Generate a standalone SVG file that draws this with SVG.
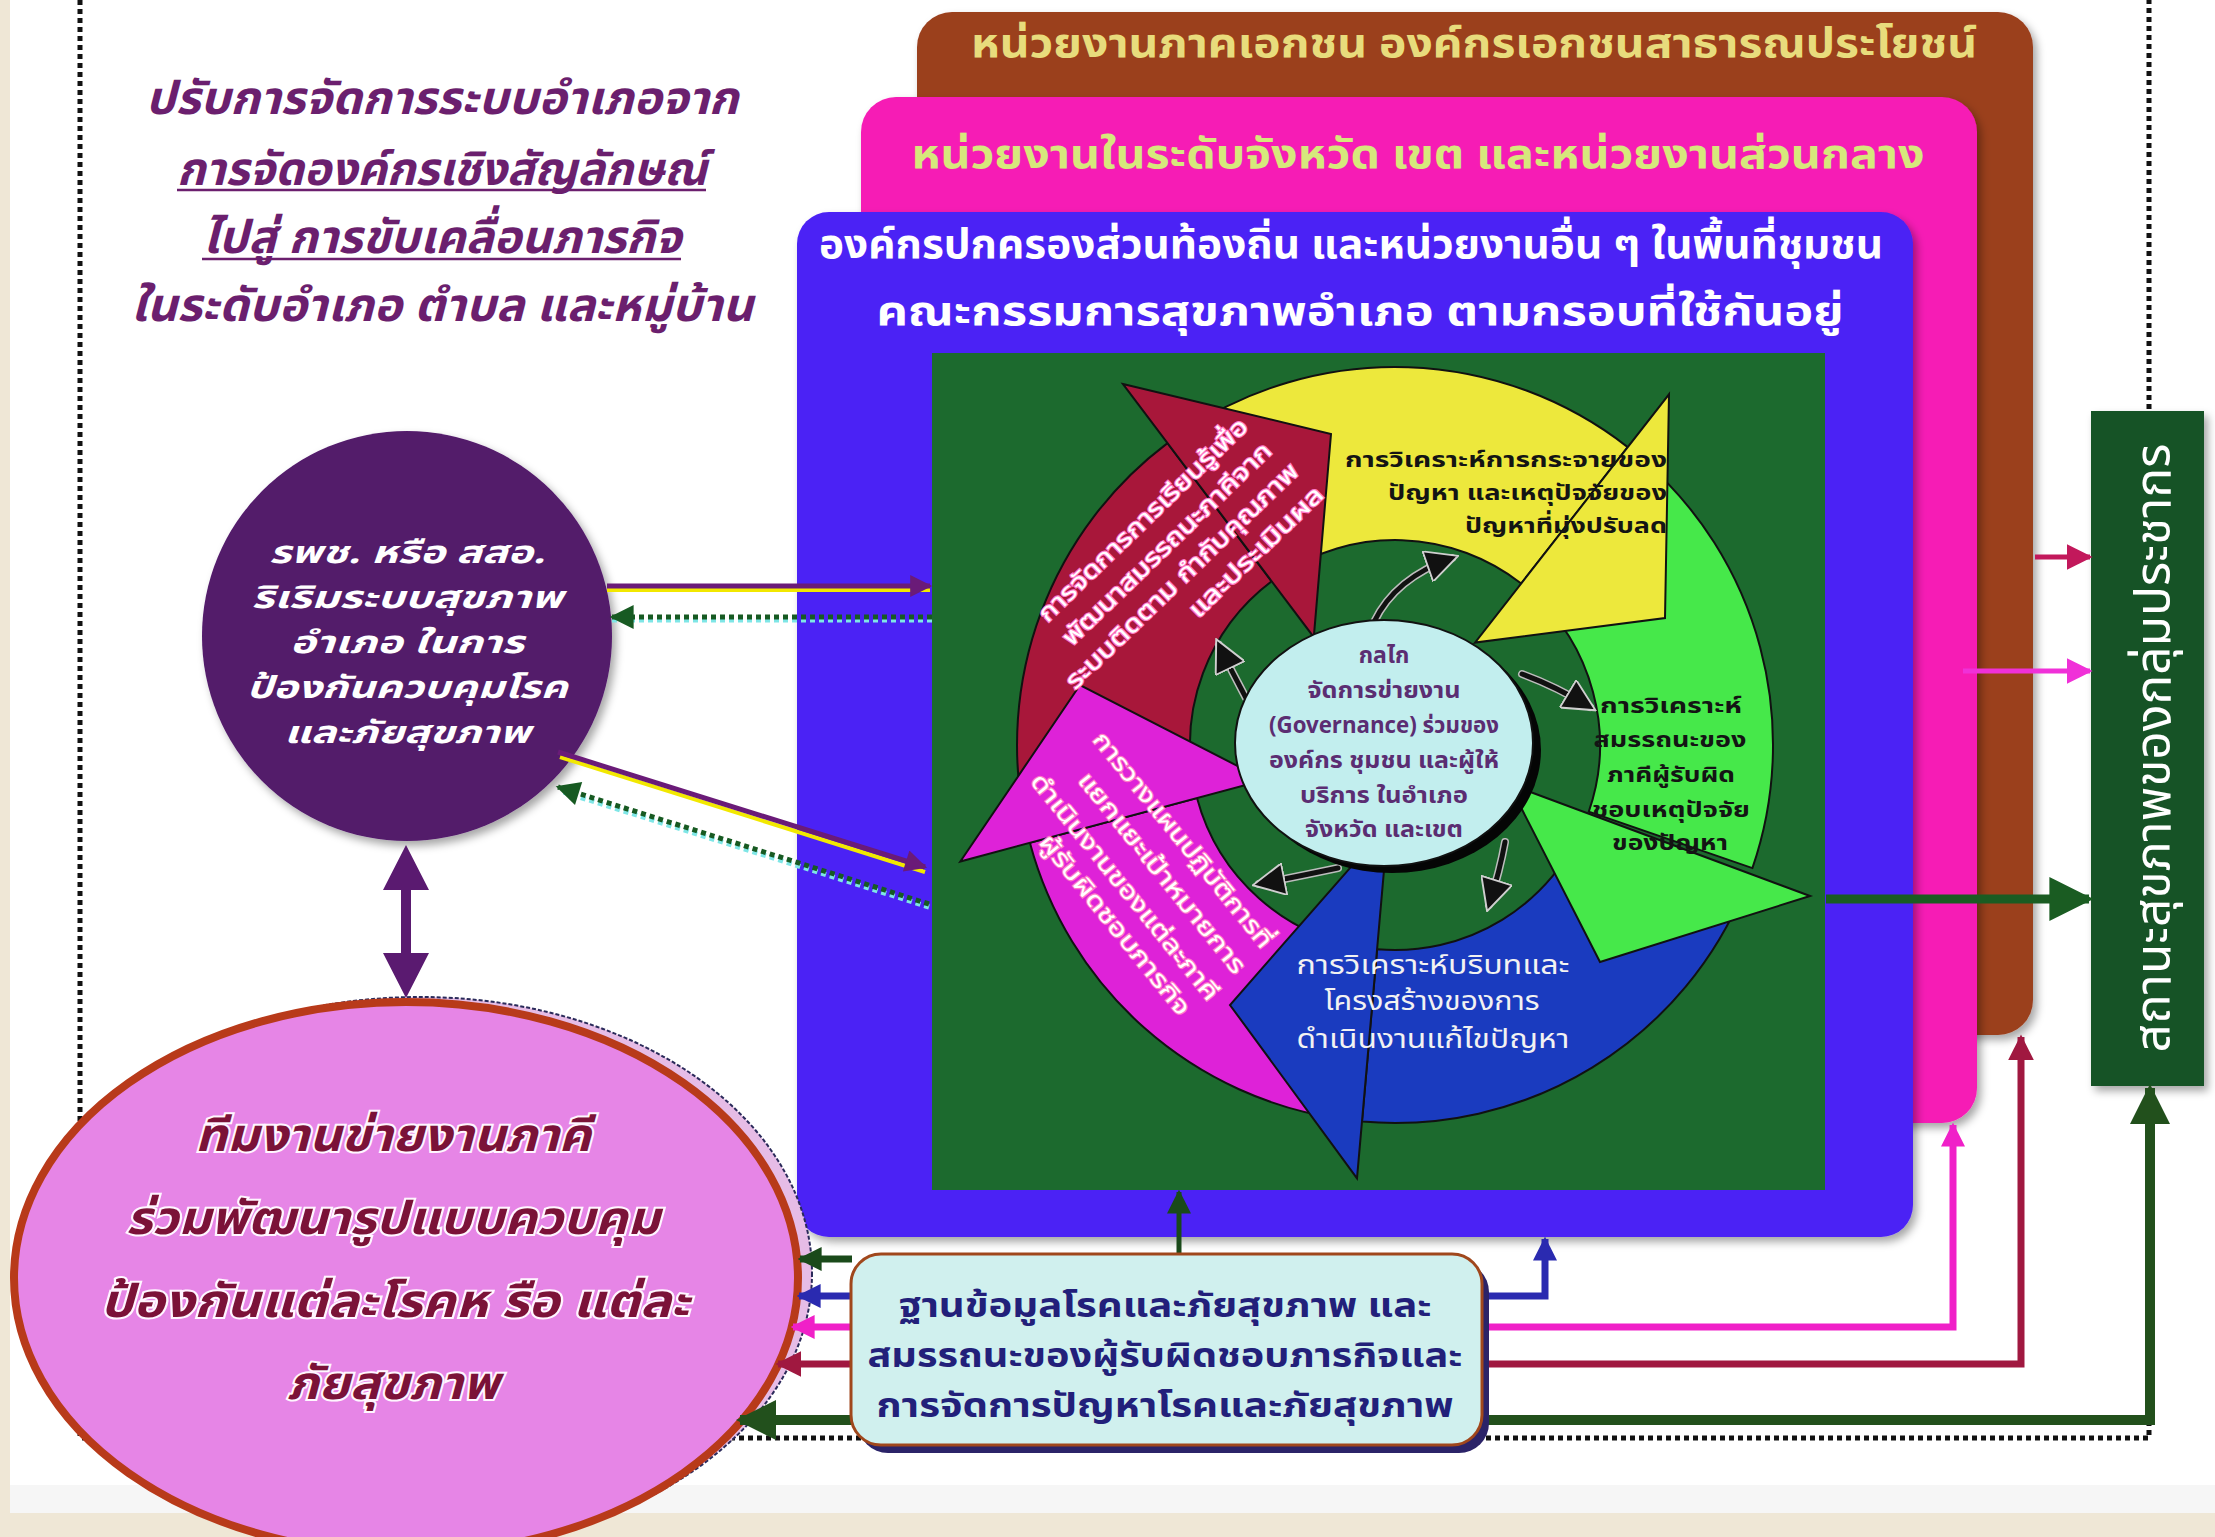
<svg xmlns="http://www.w3.org/2000/svg" width="2215" height="1537" viewBox="0 0 2215 1537">
<style>
text{font-family:'Noto Sans Thai','Noto Sans','DejaVu Sans',sans-serif;}
.tl{font-size:46px;font-weight:bold;font-style:italic;fill:#6b1f6e;text-anchor:middle;}
.hdr{font-size:40px;font-weight:bold;text-anchor:middle;}
.ring{stroke:#111;stroke-width:2;stroke-linejoin:miter;}
.dk{font-size:22px;font-weight:bold;fill:#141414;}
.wt{font-size:24px;fill:#ffffff;stroke:#ff7ac8;stroke-width:2.2;paint-order:stroke;text-anchor:middle;}
.ctr{font-size:23px;font-weight:bold;fill:#5b2d72;text-anchor:middle;}
.pe{font-size:31px;font-weight:bold;font-style:italic;fill:#ffffff;text-anchor:middle;}
.pk{font-size:46px;font-weight:bold;font-style:italic;fill:#7b1238;stroke:#fff6ff;stroke-width:4;paint-order:stroke;text-anchor:middle;}
.cy{font-size:34px;font-weight:bold;fill:#22207a;text-anchor:middle;}
</style>
<defs>
<filter id="sh" x="-5%" y="-5%" width="115%" height="115%"><feDropShadow dx="4" dy="5" stdDeviation="4" flood-color="#000" flood-opacity="0.35"/></filter>
<marker id="mPur" viewBox="0 0 10 10" refX="9" refY="5" markerWidth="24" markerHeight="22" markerUnits="userSpaceOnUse" orient="auto-start-reverse"><path d="M0,0L10,5L0,10z" fill="#6a1b78"/></marker>
<marker id="mDot" viewBox="0 0 10 10" refX="9" refY="5" markerWidth="26" markerHeight="24" markerUnits="userSpaceOnUse" orient="auto-start-reverse"><path d="M0,0L10,5L0,10z" fill="#175a22"/></marker>
<marker id="mDG" viewBox="0 0 10 10" refX="9" refY="5" markerWidth="24" markerHeight="24" markerUnits="userSpaceOnUse" orient="auto-start-reverse"><path d="M0,0L10,5L0,10z" fill="#1a4a1a"/></marker>
<marker id="mBl" viewBox="0 0 10 10" refX="9" refY="5" markerWidth="24" markerHeight="24" markerUnits="userSpaceOnUse" orient="auto-start-reverse"><path d="M0,0L10,5L0,10z" fill="#2a2ab0"/></marker>
<marker id="mPk" viewBox="0 0 10 10" refX="9" refY="5" markerWidth="24" markerHeight="24" markerUnits="userSpaceOnUse" orient="auto-start-reverse"><path d="M0,0L10,5L0,10z" fill="#f020c8"/></marker>
<marker id="mCr" viewBox="0 0 10 10" refX="9" refY="5" markerWidth="26" markerHeight="28" markerUnits="userSpaceOnUse" orient="auto-start-reverse"><path d="M0,0L10,5L0,10z" fill="#a01840"/></marker>
<marker id="mBig" viewBox="0 0 10 10" refX="9" refY="5" markerWidth="40" markerHeight="44" markerUnits="userSpaceOnUse" orient="auto-start-reverse"><path d="M0,0L10,5L0,10z" fill="#22501c"/></marker>
<marker id="mBk" viewBox="0 0 10 10" refX="8" refY="5" markerWidth="34" markerHeight="32" markerUnits="userSpaceOnUse" orient="auto"><path d="M0,0L10,5L0,10z" fill="#111" stroke="#cfcfcf" stroke-width="0.6"/></marker>
<marker id="mCrR" viewBox="0 0 10 10" refX="9" refY="5" markerWidth="26" markerHeight="28" markerUnits="userSpaceOnUse" orient="auto"><path d="M0,0L10,5L0,10z" fill="#c2185b"/></marker>
<marker id="mPkR" viewBox="0 0 10 10" refX="9" refY="5" markerWidth="26" markerHeight="28" markerUnits="userSpaceOnUse" orient="auto"><path d="M0,0L10,5L0,10z" fill="#f030d8"/></marker>
<marker id="mGR" viewBox="0 0 10 10" refX="9" refY="5" markerWidth="44" markerHeight="44" markerUnits="userSpaceOnUse" orient="auto"><path d="M0,0L10,5L0,10z" fill="#1a5c22"/></marker>
</defs>

<rect x="0" y="0" width="2215" height="1537" fill="#efe7d6"/>
<rect x="10" y="0" width="2205" height="1485" fill="#ffffff"/>
<rect x="10" y="1485" width="2205" height="28" fill="#f6f6f6"/>
<rect x="80" y="-20" width="2069" height="1458" fill="none" stroke="#111" stroke-width="5" stroke-dasharray="5 4"/>

<g id="title">
<text class="tl" x="442" y="114" textLength="593" lengthAdjust="spacingAndGlyphs">ปรับการจัดการระบบอำเภอจาก</text>
<text class="tl" x="442" y="185" textLength="530" lengthAdjust="spacingAndGlyphs">การจัดองค์กรเชิงสัญลักษณ์</text>
<text class="tl" x="442" y="253" textLength="479" lengthAdjust="spacingAndGlyphs">ไปสู่ การขับเคลื่อนภารกิจ</text>
<text class="tl" x="442" y="321" textLength="622" lengthAdjust="spacingAndGlyphs">ในระดับอำเภอ ตำบล และหมู่บ้าน</text>
<line x1="177" y1="190" x2="706" y2="190" stroke="#6b1f6e" stroke-width="2.5"/>
<line x1="202" y1="259" x2="681" y2="259" stroke="#6b1f6e" stroke-width="2.5"/>
</g>

<g id="box-private">
<rect x="917" y="12" width="1116" height="1023" rx="35" fill="#9b3f1e" filter="url(#sh)"/>
<text class="hdr" x="1474" y="57" fill="#e8dc7c" textLength="1006" lengthAdjust="spacingAndGlyphs">หน่วยงานภาคเอกชน องค์กรเอกชนสาธารณประโยชน์</text>
</g>
<g id="box-province">
<rect x="861" y="97" width="1116" height="1026" rx="35" fill="#f61bb5" filter="url(#sh)"/>
<text class="hdr" x="1418" y="168" font-size="42" fill="#d6e87c" textLength="1013" lengthAdjust="spacingAndGlyphs">หน่วยงานในระดับจังหวัด เขต และหน่วยงานส่วนกลาง</text>
</g>
<g id="box-local">
<rect x="797" y="212" width="1116" height="1025" rx="32" fill="#4b22f5" filter="url(#sh)"/>
<text class="hdr" x="1351" y="258" font-size="42" fill="#ffffff" textLength="1064" lengthAdjust="spacingAndGlyphs">องค์กรปกครองส่วนท้องถิ่น และหน่วยงานอื่น ๆ ในพื้นที่ชุมชน</text>
<text class="hdr" x="1360" y="325" font-size="50" fill="#ffffff" textLength="967" lengthAdjust="spacingAndGlyphs">คณะกรรมการสุขภาพอำเภอ ตามกรอบที่ใช้กันอยู่</text>
</g>

<g id="cycle">
<rect x="932" y="353" width="893" height="837" fill="#1c6a2e"/>
<path class="ring" fill="#de22d8" d="M1342.4,1119.3 A378,378 0 0 1 1029.9,842.8 L1197,798.1 A205,205 0 0 0 1366.5,948 Z"/>
<path class="ring" fill="#a8173a" d="M1025.3,823.6 A378,378 0 0 1 1167.5,443.1 L1271.6,581.3 A205,205 0 0 0 1194.5,787.6 Z"/>
<path class="ring" fill="#ede83c" d="M1183.6,431.6 A378,378 0 0 1 1627.7,447.1 L1521.2,583.5 A205,205 0 0 0 1280.4,575.1 Z"/>
<path class="ring" fill="#46e84a" d="M1643,459.7 A378,378 0 0 1 1752.4,868.1 L1588.8,811.7 A205,205 0 0 0 1529.5,590.3 Z"/>
<path class="ring" fill="#1a3bbf" d="M1745.5,886.6 A378,378 0 0 1 1362,1121.6 L1377.1,949.2 A205,205 0 0 0 1585.1,821.8 Z"/>
<polygon class="ring" fill="#de22d8" points="960.3,861.5 1080,685 1264.6,779.9"/>
<polygon class="ring" fill="#a8173a" points="1123,384 1331,434 1313.8,637.2"/>
<polygon class="ring" fill="#ede83c" points="1669,394.3 1665,618 1475,642.6"/>
<polygon class="ring" fill="#46e84a" points="1810,896 1600,962 1509,784"/>
<polygon class="ring" fill="#1a3bbf" points="1357,1178.3 1230,1005 1388,824.7"/>
<g fill="none" stroke-linecap="round">
<g stroke="#bdbdbd" stroke-width="8">
<path d="M1374,622 Q1395,578 1452,558"/>
<path d="M1522,674 Q1555,686 1590,707"/>
<path d="M1505,842 Q1500,870 1489,905"/>
<path d="M1338,868 Q1300,876 1259,884"/>
<path d="M1246,698 Q1232,672 1219,645"/>
</g>
<g stroke="#111" stroke-width="5" marker-end="url(#mBk)">
<path d="M1374,622 Q1395,578 1452,558"/>
<path d="M1522,674 Q1555,686 1590,707"/>
<path d="M1505,842 Q1500,870 1489,905"/>
<path d="M1338,868 Q1300,876 1259,884"/>
<path d="M1246,698 Q1232,672 1219,645"/>
</g>
</g>
<ellipse cx="1392" cy="750" rx="149" ry="123" fill="#050505"/>
<ellipse cx="1384" cy="743" rx="149" ry="123" fill="#c2eeee" stroke="#111" stroke-width="2"/>
<text class="ctr" x="1384" y="663">กลไก</text>
<text class="ctr" x="1384" y="698" textLength="153" lengthAdjust="spacingAndGlyphs">จัดการข่ายงาน</text>
<text class="ctr" x="1384" y="733" textLength="230" lengthAdjust="spacingAndGlyphs">(Governance) ร่วมของ</text>
<text class="ctr" x="1384" y="768" textLength="230" lengthAdjust="spacingAndGlyphs">องค์กร ชุมชน และผู้ให้</text>
<text class="ctr" x="1384" y="803" textLength="168" lengthAdjust="spacingAndGlyphs">บริการ ในอำเภอ</text>
<text class="ctr" x="1384" y="837" textLength="158" lengthAdjust="spacingAndGlyphs">จังหวัด และเขต</text>
<g class="dk" text-anchor="end">
<text x="1667" y="467" textLength="322" lengthAdjust="spacingAndGlyphs">การวิเคราะห์การกระจายของ</text>
<text x="1667" y="500" textLength="279" lengthAdjust="spacingAndGlyphs">ปัญหา และเหตุปัจจัยของ</text>
<text x="1667" y="533" textLength="202" lengthAdjust="spacingAndGlyphs">ปัญหาที่มุ่งปรับลด</text>
</g>
<g class="dk" text-anchor="middle">
<text x="1671" y="713" textLength="142" lengthAdjust="spacingAndGlyphs">การวิเคราะห์</text>
<text x="1670" y="747" textLength="153" lengthAdjust="spacingAndGlyphs">สมรรถนะของ</text>
<text x="1671" y="782" textLength="128" lengthAdjust="spacingAndGlyphs">ภาคีผู้รับผิด</text>
<text x="1671" y="817" textLength="158" lengthAdjust="spacingAndGlyphs">ชอบเหตุปัจจัย</text>
<text x="1670" y="850" textLength="116" lengthAdjust="spacingAndGlyphs">ของปัญหา</text>
</g>
<g font-size="26" fill="#f2f2f2" text-anchor="middle">
<text x="1433" y="974" textLength="273" lengthAdjust="spacingAndGlyphs">การวิเคราะห์บริบทและ</text>
<text x="1432" y="1010" textLength="215" lengthAdjust="spacingAndGlyphs">โครงสร้างของการ</text>
<text x="1433" y="1048" textLength="273" lengthAdjust="spacingAndGlyphs">ดำเนินงานแก้ไขปัญหา</text>
</g>
<text class="wt" transform="translate(1143,520) rotate(-44)" y="8" textLength="281" lengthAdjust="spacingAndGlyphs">การจัดการการเรียนรู้เพื่อ</text>
<text class="wt" transform="translate(1167,544) rotate(-44)" y="8" textLength="280" lengthAdjust="spacingAndGlyphs">พัฒนาสมรรถนะภาคีจาก</text>
<text class="wt" transform="translate(1182,576) rotate(-44)" y="8" textLength="313" lengthAdjust="spacingAndGlyphs">ระบบติดตาม กำกับคุณภาพ</text>
<text class="wt" transform="translate(1256,552) rotate(-44)" y="8" textLength="177" lengthAdjust="spacingAndGlyphs">และประเมินผล</text>
<text class="wt" transform="translate(1183,840) rotate(51)" y="8" textLength="270" lengthAdjust="spacingAndGlyphs">การวางแผนปฏิบัติการที่</text>
<text class="wt" transform="translate(1162,873) rotate(51)" y="8" textLength="251" lengthAdjust="spacingAndGlyphs">แยกแยะเป้าหมายการ</text>
<text class="wt" transform="translate(1125,887) rotate(51)" y="8" textLength="284" lengthAdjust="spacingAndGlyphs">ดำเนินงานของแต่ละภาคี</text>
<text class="wt" transform="translate(1115,925) rotate(51)" y="8" textLength="225" lengthAdjust="spacingAndGlyphs">ผู้รับผิดชอบภารกิจ</text>
</g>

<g id="node-hospital">
<ellipse cx="407" cy="636" rx="205" ry="205" fill="#521a6b" filter="url(#sh)"/>
<text class="pe" x="407" y="563" textLength="276" lengthAdjust="spacingAndGlyphs">รพช. หรือ สสอ.</text>
<text class="pe" x="407" y="608" textLength="311" lengthAdjust="spacingAndGlyphs">ริเริมระบบสุขภาพ</text>
<text class="pe" x="407" y="653" textLength="234" lengthAdjust="spacingAndGlyphs">อำเภอ ในการ</text>
<text class="pe" x="407" y="698" textLength="321" lengthAdjust="spacingAndGlyphs">ป้องกันควบคุมโรค</text>
<text class="pe" x="407" y="743" textLength="246" lengthAdjust="spacingAndGlyphs">และภัยสุขภาพ</text>
</g>

<g id="node-team">
<ellipse cx="420" cy="1273" rx="392" ry="276" fill="#e6bce6" stroke="#2a2a5a" stroke-width="2" stroke-dasharray="4 2"/>
<ellipse cx="406" cy="1278" rx="392" ry="276" fill="#e685e6" stroke="#b83a1a" stroke-width="8"/>
<text class="pk" x="393" y="1151" textLength="396" lengthAdjust="spacingAndGlyphs">ทีมงานข่ายงานภาคี</text>
<text class="pk" x="393" y="1234" textLength="534" lengthAdjust="spacingAndGlyphs">ร่วมพัฒนารูปแบบควบคุม</text>
<text class="pk" x="395" y="1317" textLength="589" lengthAdjust="spacingAndGlyphs">ป้องกันแต่ละโรคห รือ แต่ละ</text>
<text class="pk" x="393" y="1399" textLength="212" lengthAdjust="spacingAndGlyphs">ภัยสุขภาพ</text>
</g>

<g id="node-population">
<rect x="2091" y="411" width="113" height="675" fill="#185226" filter="url(#sh)"/>
<text transform="translate(2170,748) rotate(-90)" font-size="50" fill="#ffffff" text-anchor="middle" textLength="609" lengthAdjust="spacingAndGlyphs">สถานะสุขภาพของกลุ่มประชากร</text>
</g>

<g id="connectors" fill="none">
<line x1="607" y1="590" x2="930" y2="590" stroke="#f2e800" stroke-width="4"/>
<line x1="607" y1="586" x2="930" y2="586" stroke="#6a1b78" stroke-width="5" marker-end="url(#mPur)"/>
<line x1="932" y1="620" x2="612" y2="620" stroke="#7fe6e6" stroke-width="5" stroke-dasharray="5 4"/>
<line x1="932" y1="617" x2="612" y2="617" stroke="#175a22" stroke-width="5" stroke-dasharray="5 4" marker-end="url(#mDot)"/>
<line x1="560" y1="757" x2="925" y2="872" stroke="#f2e800" stroke-width="4"/>
<line x1="558" y1="752" x2="925" y2="867" stroke="#6a1b78" stroke-width="5" marker-end="url(#mPur)"/>
<line x1="929" y1="907" x2="560" y2="791" stroke="#7fe6e6" stroke-width="5" stroke-dasharray="5 4"/>
<line x1="929" y1="904" x2="558" y2="787" stroke="#175a22" stroke-width="5" stroke-dasharray="5 4" marker-end="url(#mDot)"/>
<polygon points="406,845 429,890 411,890 411,953 429,953 406,998 383,953 401,953 401,890 383,890" fill="#5a1a70"/>
<polyline points="800,1259 852,1259" stroke="#1a4a1a" stroke-width="7" marker-start="url(#mDG)"/>
<line x1="1179" y1="1256" x2="1179" y2="1192" stroke="#1a4a1a" stroke-width="5" marker-end="url(#mDG)"/>
<polyline points="799,1296 1545,1296 1545,1239" stroke="#2a2ab0" stroke-width="7" marker-start="url(#mBl)" marker-end="url(#mBl)"/>
<polyline points="793,1327 1953,1327 1953,1125" stroke="#f020c8" stroke-width="7" marker-start="url(#mPk)" marker-end="url(#mPk)"/>
<polyline points="778,1364 2021,1364 2021,1037" stroke="#a01840" stroke-width="7" marker-start="url(#mCr)" marker-end="url(#mCr)"/>
<polyline points="740,1420 2150,1420 2150,1088" stroke="#22501c" stroke-width="10" marker-start="url(#mBig)" marker-end="url(#mBig)"/>
<line x1="2035" y1="557" x2="2090" y2="557" stroke="#c2185b" stroke-width="5" marker-end="url(#mCrR)"/>
<line x1="1963" y1="671" x2="2090" y2="671" stroke="#f030d8" stroke-width="5" marker-end="url(#mPkR)"/>
<line x1="1826" y1="899" x2="2089" y2="899" stroke="#1a5c22" stroke-width="9" marker-end="url(#mGR)"/>
</g>

<g id="node-database">
<rect x="858" y="1262" width="631" height="191" rx="30" fill="#2b2368"/>
<rect x="851" y="1254" width="631" height="191" rx="30" fill="#d0f0ee" stroke="#a0471c" stroke-width="3"/>
<text class="cy" x="1165" y="1317" textLength="533" lengthAdjust="spacingAndGlyphs">ฐานข้อมูลโรคและภัยสุขภาพ และ</text>
<text class="cy" x="1165" y="1367" textLength="595" lengthAdjust="spacingAndGlyphs">สมรรถนะของผู้รับผิดชอบภารกิจและ</text>
<text class="cy" x="1165" y="1417" textLength="577" lengthAdjust="spacingAndGlyphs">การจัดการปัญหาโรคและภัยสุขภาพ</text>
</g>
</svg>
